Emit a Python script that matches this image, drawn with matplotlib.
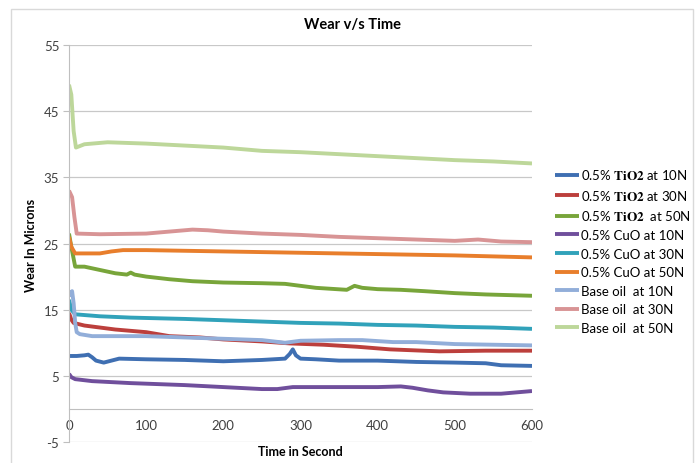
import matplotlib
matplotlib.use('Agg')
import matplotlib.pyplot as plt
from matplotlib.patches import Rectangle

plt.rcParams['font.family'] = ['Lato', 'DejaVu Sans']
plt.rcParams['mathtext.fontset'] = 'stix'
plt.rcParams['axes.unicode_minus'] = False

# Values (time in s, wear in microns)
t_tio2_10 = [0, 10, 20, 25, 30, 35, 45, 55, 65, 100, 150, 200, 250, 280, 286, 290, 294, 300, 320, 350, 400, 450, 500, 540, 560, 600]
w_tio2_10 = [8.0, 8.0, 8.1, 8.2, 7.8, 7.3, 7.0, 7.3, 7.6, 7.5, 7.4, 7.2, 7.4, 7.6, 8.3, 9.0, 8.1, 7.6, 7.5, 7.3, 7.3, 7.1, 7.0, 6.9, 6.6, 6.5]

t_tio2_30 = [0, 3, 6, 20, 60, 100, 130, 170, 200, 250, 286, 330, 373, 416, 480, 540, 600]
w_tio2_30 = [14.5, 13.5, 13.0, 12.6, 12.0, 11.6, 11.0, 10.8, 10.5, 10.2, 9.9, 9.7, 9.4, 9.0, 8.7, 8.8, 8.8]

t_tio2_50 = [0, 3, 8, 20, 40, 60, 75, 80, 85, 100, 130, 160, 200, 250, 280, 320, 360, 370, 380, 400, 430, 460, 500, 540, 600]
w_tio2_50 = [26.5, 24.5, 21.5, 21.5, 21.0, 20.5, 20.3, 20.6, 20.3, 20.0, 19.6, 19.3, 19.1, 19.0, 18.9, 18.3, 18.0, 18.6, 18.3, 18.1, 18.0, 17.8, 17.5, 17.3, 17.1]

t_cuo_10 = [0, 3, 8, 30, 80, 150, 200, 250, 270, 290, 350, 400, 430, 445, 465, 485, 520, 560, 600]
w_cuo_10 = [5.3, 4.8, 4.5, 4.2, 3.9, 3.6, 3.3, 3.0, 3.0, 3.3, 3.3, 3.3, 3.4, 3.2, 2.8, 2.5, 2.3, 2.3, 2.7]

t_cuo_30 = [0, 3, 8, 40, 80, 150, 200, 250, 300, 350, 400, 450, 500, 550, 600]
w_cuo_30 = [16.5, 15.0, 14.3, 14.0, 13.8, 13.6, 13.4, 13.2, 13.0, 12.9, 12.7, 12.6, 12.4, 12.3, 12.1]

t_cuo_50 = [0, 3, 8, 40, 55, 70, 100, 200, 300, 400, 500, 600]
w_cuo_50 = [26.0, 24.5, 23.5, 23.5, 23.8, 24.0, 24.0, 23.8, 23.6, 23.4, 23.2, 22.9]

t_base_10 = [0, 2, 4, 6, 8, 10, 14, 30, 100, 150, 200, 250, 280, 300, 350, 380, 420, 450, 500, 550, 600]
w_base_10 = [17.8, 17.2, 17.8, 16.0, 13.0, 11.6, 11.3, 11.0, 11.0, 10.8, 10.6, 10.4, 10.0, 10.3, 10.4, 10.4, 10.1, 10.1, 9.8, 9.7, 9.6]

t_base_30 = [0, 4, 7, 10, 40, 100, 130, 160, 180, 200, 250, 300, 350, 400, 450, 500, 530, 560, 600]
w_base_30 = [33.0, 32.0, 29.0, 26.5, 26.4, 26.5, 26.8, 27.1, 27.0, 26.8, 26.5, 26.3, 26.0, 25.8, 25.6, 25.4, 25.6, 25.3, 25.2]

t_base_50 = [0, 3, 6, 9, 20, 50, 100, 150, 200, 250, 300, 350, 400, 450, 500, 550, 600]
w_base_50 = [49.0, 47.5, 42.0, 39.5, 40.0, 40.3, 40.1, 39.8, 39.5, 39.0, 38.8, 38.5, 38.2, 37.9, 37.6, 37.4, 37.1]

labels = [
    r'0.5% $\mathbf{TiO2}$ at 10N',
    r'0.5% $\mathbf{TiO2}$ at 30N',
    r'0.5% $\mathbf{TiO2}$  at 50N',
    '0.5% CuO at 10N',
    '0.5% CuO at 30N',
    '0.5% CuO at 50N',
    'Base oil  at 10N',
    'Base oil  at 30N',
    'Base oil  at 50N',
]
colors = ['#3F6FB2', '#BC3F3C', '#78A53A', '#704F9C', '#31A2BA',
          '#E87E2C', '#92AED9', '#D89495', '#BDD79A']
series = [(t_tio2_10, w_tio2_10), (t_tio2_30, w_tio2_30), (t_tio2_50, w_tio2_50),
          (t_cuo_10, w_cuo_10), (t_cuo_30, w_cuo_30), (t_cuo_50, w_cuo_50),
          (t_base_10, w_base_10), (t_base_30, w_base_30), (t_base_50, w_base_50)]

fig = plt.figure(figsize=(6.96, 4.64), dpi=100)
ax = fig.add_axes([69/696, 1 - 443/464, (532 - 69)/696, (443 - 46)/464])

# outer chart border
fig.patches.append(Rectangle((11/696, -0.01), (693 - 11)/696, (464 - 10)/464 + 0.01,
                             transform=fig.transFigure, fill=False,
                             edgecolor='#D9D9D9', linewidth=1))

for (t, w), c, lab in zip(series, colors, labels):
    ax.plot(t, w, color=c, linewidth=2.8, label=lab, solid_capstyle='butt')

ax.set_xlim(0, 600)
ax.set_ylim(-5, 55)
ax.set_yticks(range(-5, 56, 10))
ax.set_xticks(range(0, 601, 100))
ax.grid(axis='y', color='#C8C8C8', linewidth=0.9)
ax.set_axisbelow(True)

for s in ['top', 'right']:
    ax.spines[s].set_visible(False)
ax.spines['bottom'].set_position(('data', 0))
ax.spines['bottom'].set_color('#BFBFBF')
ax.spines['left'].set_color('#BFBFBF')
ax.tick_params(axis='x', length=0, pad=7, labelsize=9.5, labelcolor='#404040')
ax.tick_params(axis='y', length=4, color='#BFBFBF', pad=3, labelsize=9.5, labelcolor='#404040')

fig.text(352/696, 1 - 25/464, 'Wear v/s Time', ha='center', va='center',
         fontsize=10.5, fontweight='bold')
fig.text(300/696, 1 - 452/464, 'Time in Second', ha='center', va='center',
         fontsize=9, fontweight='bold')
fig.text(31/696, 1 - 245/464, 'Wear In Microns', ha='center', va='center',
         rotation=90, fontsize=9, fontweight='bold')

ax.legend(loc='upper left', bbox_to_anchor=(550/696, 1 - 163/464),
          bbox_transform=fig.transFigure, frameon=False, fontsize=9.5,
          handlelength=1.8, handletextpad=0.15, labelspacing=0.5,
          borderaxespad=0)

fig.savefig('out.png', dpi=100)
